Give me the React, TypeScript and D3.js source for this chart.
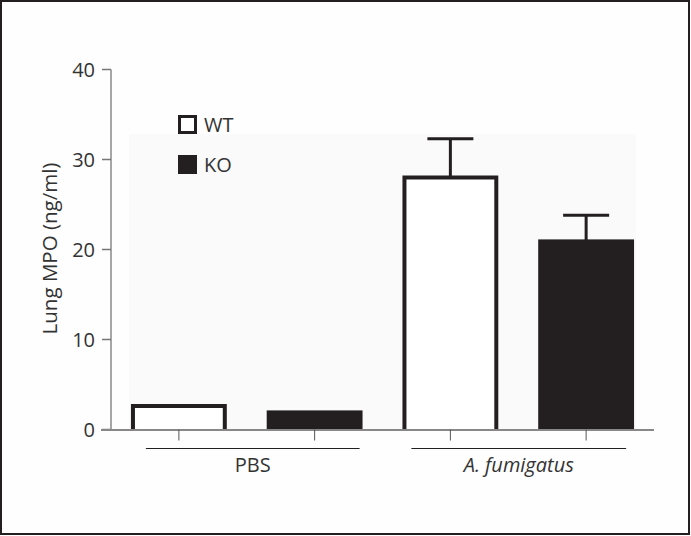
import React from "react";
import * as d3 from "d3";

const categories = ["PBS-WT", "PBS-KO", "AF-WT", "AF-KO"];
const groups = ["WT", "KO", "WT", "KO"];
const values = [2.6, 1.9, 28.0, 20.9];
const errors = [0, 0, 4.3, 2.9];
const yTicks = [0, 10, 20, 30, 40];
const groupLabels = ["PBS", "A. fumigatus"];
const legendItems = ["WT", "KO"];

const W = 691;
const H = 536;
const DARK = "#231f20";
const TEXT = "#333";
const FONT = "'Open Sans', 'Noto Sans', sans-serif";

export default function App() {
  const x = d3.scaleBand<string>().domain(categories).range([111, 654]).paddingInner(0.294).paddingOuter(0.147);
  const y = d3.scaleLinear().domain([0, 40]).range([429.5, 69.5]);
  const bw = x.bandwidth();
  const sw = 4;
  const groupExt = [
    [33, 45],
    [39, 40],
  ];

  return (
    <svg width={W} height={H} style={{ position: "fixed", left: 0, top: 0, background: "#fff" }} fontFamily={FONT}>
      <rect x={0} y={0} width={W} height={H} fill="#fff" />
      <rect x={1} y={1} width={688} height={533} fill="#fefefe" stroke={DARK} strokeWidth={2} />
      {/* faint plot background */}
      <rect x={x("PBS-WT")! - 2} y={134} width={x("AF-KO")! + bw - x("PBS-WT")! + 4} height={y(0) - 134} fill="#fafafa" />

      {/* bars */}
      {categories.map((c, i) => {
        const x0 = x(c)!;
        const isWT = groups[i] === "WT";
        const top = y(values[i]);
        const cx = x0 + bw / 2;
        return (
          <g key={c}>
            {errors[i] > 0 && (
              <g stroke={DARK} strokeWidth={3}>
                <line x1={cx} x2={cx} y1={top} y2={y(values[i] + errors[i])} />
                <line x1={cx - 23} x2={cx + 23} y1={y(values[i] + errors[i])} y2={y(values[i] + errors[i])} />
              </g>
            )}
            {isWT ? (
              <path
                d={`M${x0 + sw / 2},${y(0)} V${top} H${x0 + bw - sw / 2} V${y(0)}`}
                fill="#fff"
                stroke={DARK}
                strokeWidth={sw}
              />
            ) : (
              <rect x={x0} y={top - sw / 2} width={bw} height={y(0) - top + sw / 2} fill={DARK} />
            )}
          </g>
        );
      })}

      {/* y axis */}
      <line x1={111} x2={111} y1={y(40)} y2={y(0)} stroke="#888" strokeWidth={1.5} />
      {yTicks.map((t) => (
        <g key={t}>
          <line x1={102} x2={111} y1={y(t)} y2={y(t)} stroke="#777" strokeWidth={1.5} />
          <text x={95} y={y(t)} dy="0.36em" textAnchor="end" fontSize={20} fill={TEXT}>
            {t}
          </text>
        </g>
      ))}
      <text
        transform={`translate(57,248.5) rotate(-90)`}
        textAnchor="middle"
        fontSize={20.5}
        fill={TEXT}
      >
        Lung MPO (ng/ml)
      </text>

      {/* x axis */}
      <line x1={101} x2={654} y1={y(0) + 0.5} y2={y(0) + 0.5} stroke="#888" strokeWidth={2} />
      {categories.map((c) => {
        const cx = x(c)! + bw / 2;
        return <line key={c} x1={cx} x2={cx} y1={y(0)} y2={y(0) + 11} stroke="#555" strokeWidth={1} />;
      })}
      {groupLabels.map((g, gi) => {
        const c1 = x(categories[gi * 2])! + bw / 2;
        const c2 = x(categories[gi * 2 + 1])! + bw / 2;
        const l1 = c1 - groupExt[gi][0];
        const l2 = c2 + groupExt[gi][1];
        const mid = (l1 + l2) / 2;
        return (
          <g key={g}>
            <line x1={l1} x2={l2} y1={448.5} y2={448.5} stroke={DARK} strokeWidth={1.2} />
            <text
              x={mid}
              y={472}
              textAnchor="middle"
              fontSize={20}
              fill={TEXT}
              fontStyle={gi === 1 ? "italic" : "normal"}
            >
              {g}
            </text>
          </g>
        );
      })}

      {/* legend */}
      {legendItems.map((l, i) => {
        const ly = 115 + i * 40;
        return (
          <g key={l}>
            {i === 0 ? (
              <rect x={179.5} y={ly + 1.5} width={16} height={16} fill="#fff" stroke={DARK} strokeWidth={3} />
            ) : (
              <rect x={178} y={ly} width={19} height={19} fill={DARK} />
            )}
            <text x={204} y={ly + 9.5} dy="0.36em" fontSize={20} fill={TEXT}>
              {l}
            </text>
          </g>
        );
      })}
    </svg>
  );
}
